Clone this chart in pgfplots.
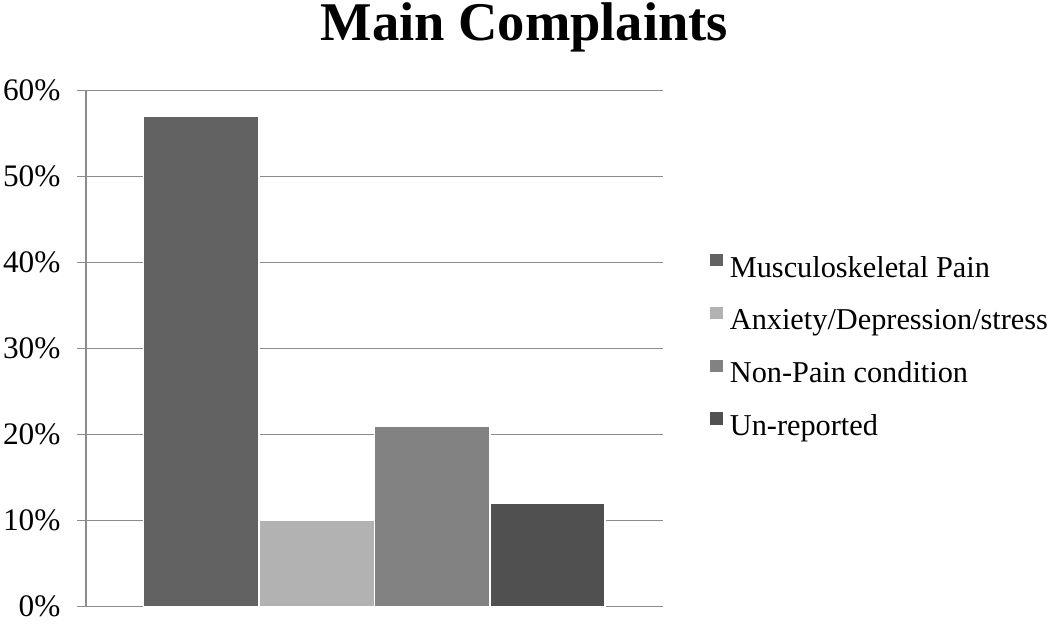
\documentclass[border=0pt]{standalone}
\usepackage{fontspec}
\setmainfont{Liberation Serif}
\usepackage{pgfplots}
\pgfplotsset{compat=1.18}
\definecolor{cA}{HTML}{626262}
\definecolor{cB}{HTML}{B2B2B2}
\definecolor{cC}{HTML}{828282}
\definecolor{cD}{HTML}{505050}
\definecolor{gridc}{HTML}{8C8C8C}
\begin{document}
\begin{tikzpicture}
\begin{axis}[
  scale only axis, width=569bp, height=509bp,
  xmin=-1, xmax=4, ymin=0, ymax=60,
  hide x axis,
  axis y line*=left,
  y axis line style={draw=gridc, line width=1.5bp},
  ytick={0,10,20,30,40,50,60},
  yticklabels={0\%,10\%,20\%,30\%,40\%,50\%,60\%},
  ymajorgrids,
  grid style={draw=gridc, line width=1.5bp},
  tick align=outside, major tick length=9bp,
  ytick style={draw=gridc, line width=1.5bp},
  yticklabel style={font=\fontsize{31}{31}\selectfont, inner xsep=3bp, inner ysep=7bp, xshift=-13bp},
  title={\bfseries Main Complaints},
  title style={font=\fontsize{54}{54}\selectfont, inner sep=3bp, at={(axis description cs:0.76,1)}, anchor=base, yshift=43bp},
  legend style={at={(1,0.5)}, anchor=west, xshift=46bp, draw=none, fill=none,
    font=\fontsize{30}{30}\selectfont, row sep=21bp, column sep=5bp, inner sep=0pt,
    nodes={text height=21bp, text depth=6bp}},
  legend cell align=left,
  legend image code/.code={\fill[#1, draw=none] (0bp,3bp) rectangle (13bp,15bp);},
]
\addplot[ybar, bar width=1, bar shift=0, fill=cA, draw=white, line width=1.5bp] coordinates {(0,57)};
\addlegendentry{Musculoskeletal Pain}
\addplot[ybar, bar width=1, bar shift=0, fill=cB, draw=white, line width=1.5bp] coordinates {(1,10)};
\addlegendentry{Anxiety/Depression/stress}
\addplot[ybar, bar width=1, bar shift=0, fill=cC, draw=white, line width=1.5bp] coordinates {(2,21)};
\addlegendentry{Non-Pain condition}
\addplot[ybar, bar width=1, bar shift=0, fill=cD, draw=white, line width=1.5bp] coordinates {(3,12)};
\addlegendentry{Un-reported}
\end{axis}
\end{tikzpicture}
\end{document}
